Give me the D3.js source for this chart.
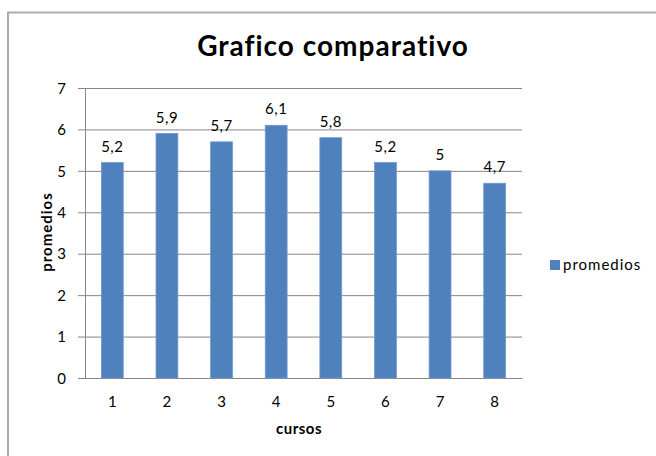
<!DOCTYPE html>
<html>
<head>
<meta charset="utf-8">
<script src="https://cdn.jsdelivr.net/npm/d3@7"></script>
<style>
  html, body { margin: 0; padding: 0; background: #fff; }
  svg { display: block; }
  text { font-family: Lato, "Liberation Sans", sans-serif; fill: #000; }
</style>
</head>
<body>
<svg id="chart" width="656" height="456"></svg>
<script>
const cursos = ["1", "2", "3", "4", "5", "6", "7", "8"];
const promedios = [5.2, 5.9, 5.7, 6.1, 5.8, 5.2, 5.0, 4.7];
const yTicks = [0, 1, 2, 3, 4, 5, 6, 7];
const seriesName = "promedios";

const svg = d3.select("#chart");
const W = 656, H = 456;
const plot = { left: 85, right: 522, top: 88, bottom: 378 };
const barColor = "#4F81BD";
const gridColor = "#868686";
const fs = 15;

// outer chart frame
svg.append("rect")
  .attr("x", 8).attr("y", 12.5)
  .attr("width", W + 10).attr("height", H + 10)
  .attr("fill", "#fff")
  .attr("stroke", "#ababab").attr("stroke-width", 2);

const x = d3.scaleBand()
  .domain(cursos)
  .range([plot.left, plot.right])
  .paddingInner(0.6).paddingOuter(0.3);

const y = d3.scaleLinear()
  .domain([0, 7])
  .range([plot.bottom, plot.top]);

// horizontal gridlines + y axis
const yAxis = d3.axisLeft(y)
  .tickValues(yTicks)
  .tickSize(-(plot.right - plot.left))
  .tickSizeOuter(0)
  .tickPadding(19)
  .tickFormat(d3.format("d"));

const gy = svg.append("g")
  .attr("transform", `translate(${plot.left},0)`)
  .call(yAxis);
gy.select(".domain").attr("stroke", gridColor);
gy.selectAll(".tick line")
  .attr("stroke", gridColor)
  .attr("x1", -7);
gy.selectAll(".tick text")
  .attr("font-size", fs)
  .attr("dy", "0.35em");

// x axis
const xAxis = d3.axisBottom(x).tickSize(0).tickSizeOuter(0).tickPadding(18);
const gx = svg.append("g")
  .attr("transform", `translate(0,${plot.bottom})`)
  .call(xAxis);
gx.select(".domain").attr("stroke", gridColor);
gx.selectAll(".tick text").attr("font-size", fs);

// bars
svg.append("g").selectAll("rect")
  .data(promedios)
  .join("rect")
  .attr("x", (d, i) => x(cursos[i]))
  .attr("y", d => y(d))
  .attr("width", x.bandwidth())
  .attr("height", d => y(0) - y(d))
  .attr("fill", barColor)
  .attr("stroke", "#6f97cc")
  .attr("stroke-width", 0.8);

// value labels
const fmt = v => String(v).replace(".", ",");
svg.append("g").selectAll("text")
  .data(promedios)
  .join("text")
  .attr("x", (d, i) => x(cursos[i]) + x.bandwidth() / 2)
  .attr("y", d => y(d) - 11)
  .attr("text-anchor", "middle")
  .attr("font-size", fs)
  .attr("letter-spacing", 0.5)
  .text(fmt);

// title
svg.append("text")
  .attr("x", 333).attr("y", 56)
  .attr("text-anchor", "middle")
  .attr("font-size", 28)
  .attr("font-weight", "bold")
  .attr("letter-spacing", 1)
  .text("Grafico comparativo");

// axis titles
svg.append("text")
  .attr("x", 299).attr("y", 434)
  .attr("text-anchor", "middle")
  .attr("font-size", fs)
  .attr("font-weight", "bold")
  .attr("letter-spacing", 0.5)
  .text("cursos");

svg.append("text")
  .attr("transform", "translate(52,232) rotate(-90)")
  .attr("text-anchor", "middle")
  .attr("font-size", fs)
  .attr("font-weight", "bold")
  .attr("letter-spacing", 1)
  .text("promedios");

// legend
const lg = svg.append("g").attr("transform", "translate(550,260)");
lg.append("rect").attr("width", 10).attr("height", 10).attr("fill", barColor);
lg.append("text").attr("x", 13).attr("y", 5).attr("dy", "0.35em")
  .attr("font-size", fs).attr("letter-spacing", 1).text(seriesName);
</script>
</body>
</html>
